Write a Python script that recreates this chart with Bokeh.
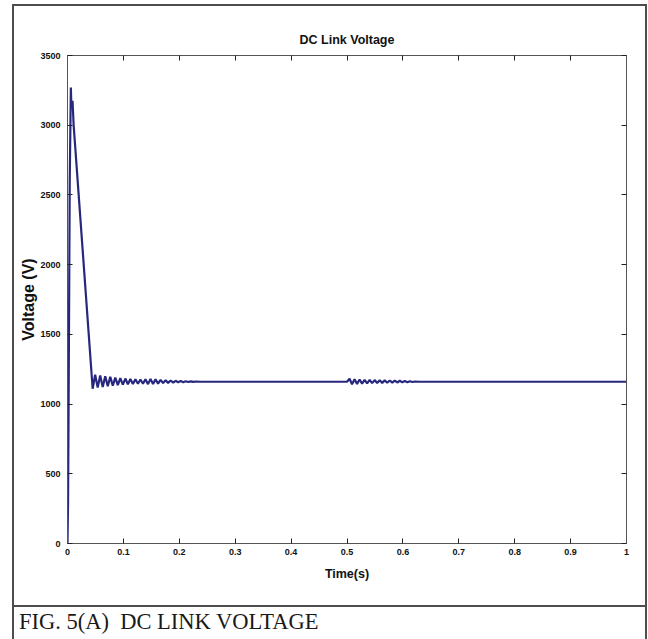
from bokeh.plotting import figure
from bokeh.models import (LinearAxis, FixedTicker, NumeralTickFormatter, Range1d, Div,
                          CustomJSTickFormatter)
from bokeh.layouts import column
from bokeh.embed import file_html
from bokeh.resources import INLINE

# DC link voltage response (time in seconds, voltage in volts)
time_s = [
    0.000, 0.001, 0.002, 0.004, 0.006, 0.007, 0.009, 0.011, 0.045,
    0.0495, 0.054, 0.0585, 0.063, 0.0675, 0.072, 0.0765, 0.081, 0.0855,
    0.090, 0.0945, 0.099, 0.1035, 0.108, 0.1125, 0.117, 0.1215, 0.126,
    0.1305, 0.135, 0.1395, 0.144, 0.1485, 0.153, 0.1575, 0.162, 0.1665,
    0.171, 0.1755, 0.180, 0.1845, 0.189, 0.1935, 0.198, 0.2025, 0.207,
    0.2115, 0.216, 0.2205, 0.225, 0.2295, 0.240,
    0.500, 0.5045, 0.509, 0.5135, 0.518, 0.5225, 0.527, 0.5315, 0.536,
    0.5405, 0.545, 0.5495, 0.554, 0.5585, 0.563, 0.5675, 0.572, 0.5765,
    0.581, 0.5855, 0.590, 0.5945, 0.599, 0.6035, 0.608, 0.6125, 0.617,
    0.6215, 0.630, 1.000,
]
voltage_v = [
    0, 300, 1000, 2600, 3270, 3130, 3175, 3000, 1110,
    1210, 1118, 1205, 1122, 1200, 1128, 1195, 1132, 1190,
    1136, 1186, 1139, 1183, 1142, 1180, 1144, 1178, 1146,
    1176, 1146, 1178, 1143, 1180, 1144, 1177, 1147, 1174,
    1150, 1171, 1152, 1169, 1154, 1167, 1156, 1165, 1157,
    1164, 1158, 1163, 1159, 1162, 1160,
    1160, 1182, 1142, 1178, 1145, 1176, 1147, 1174, 1149,
    1173, 1150, 1172, 1151, 1171, 1152, 1170, 1153, 1169,
    1154, 1168, 1155, 1167, 1156, 1165, 1157, 1164, 1158,
    1162, 1160, 1160,
]

x_ticks = [0.0, 0.1, 0.2, 0.3, 0.4, 0.5, 0.6, 0.7, 0.8, 0.9, 1.0]
y_ticks = [0, 500, 1000, 1500, 2000, 2500, 3000, 3500]

SANS = "Liberation Sans"
AXIS_GREY = "#555555"

p = figure(
    width=631, height=599,
    x_range=Range1d(0, 1), y_range=Range1d(0, 3500),
    x_axis_location=None, y_axis_location=None,
    output_backend="svg", toolbar_location=None,
    min_border_left=53, min_border_right=19,
    min_border_top=49, min_border_bottom=62,
    background_fill_color="white", border_fill_color="white",
)
p.outline_line_color = None
p.grid.visible = False

p.title.text = "DC Link Voltage"
p.title.align = "center"
p.title.text_font = SANS
p.title.text_font_style = "bold"
p.title.text_font_size = "12.5px"
p.title.text_color = "#111111"
p.title.standoff = 18


def style_axis(ax, show_labels):
    ax.axis_line_color = AXIS_GREY
    ax.axis_line_width = 1
    ax.major_tick_in = 5
    ax.major_tick_out = 0
    ax.minor_tick_in = 0
    ax.minor_tick_out = 0
    ax.major_tick_line_color = "#222222"
    if show_labels:
        ax.major_label_text_font = SANS
        ax.major_label_text_font_style = "bold"
        ax.major_label_text_font_size = "9px"
        ax.major_label_text_color = "#111111"
    else:
        ax.formatter = CustomJSTickFormatter(code="return ''")
        ax.major_label_standoff = 0


bottom = LinearAxis(ticker=FixedTicker(ticks=x_ticks),
                    formatter=NumeralTickFormatter(format="0.[0]"),
                    axis_label="Time(s)")
style_axis(bottom, True)
bottom.major_label_standoff = 5
bottom.axis_label_standoff = 9
bottom.axis_label_text_font = SANS
bottom.axis_label_text_font_style = "bold"
bottom.axis_label_text_font_size = "12.5px"
bottom.axis_label_text_color = "#111111"

left = LinearAxis(ticker=FixedTicker(ticks=y_ticks), axis_label="Voltage (V)")
style_axis(left, True)
left.major_label_standoff = 7
left.axis_label_standoff = 0
left.axis_label_text_font = SANS
left.axis_label_text_font_style = "bold"
left.axis_label_text_font_size = "16px"
left.axis_label_text_color = "#111111"

top = LinearAxis(ticker=FixedTicker(ticks=x_ticks))
style_axis(top, False)
right = LinearAxis(ticker=FixedTicker(ticks=y_ticks))
style_axis(right, False)

p.add_layout(bottom, "below")
p.add_layout(left, "left")
p.add_layout(top, "above")
p.add_layout(right, "right")

p.line(time_s, voltage_v, line_color="#27287d", line_width=2.2)

caption = Div(
    text="FIG. 5(A)&nbsp; DC LINK VOLTAGE",
    width=631, height=44, margin=0,
    styles={
        "font-family": "Liberation Serif, serif",
        "font-size": "22.5px",
        "line-height": "26px",
        "color": "#1a1a1a",
        "border-top": "2px solid #4d4d4d",
        "padding-left": "5px",
        "padding-top": "2px",
        "box-sizing": "border-box",
        "background": "white",
        "white-space": "nowrap",
    },
)

root = column(p, caption, spacing=0, margin=(4, 0, 0, 12),
              styles={"border": "2px solid #4d4d4d", "background": "white"})

open("out.html", "w").write(file_html(root, INLINE))
